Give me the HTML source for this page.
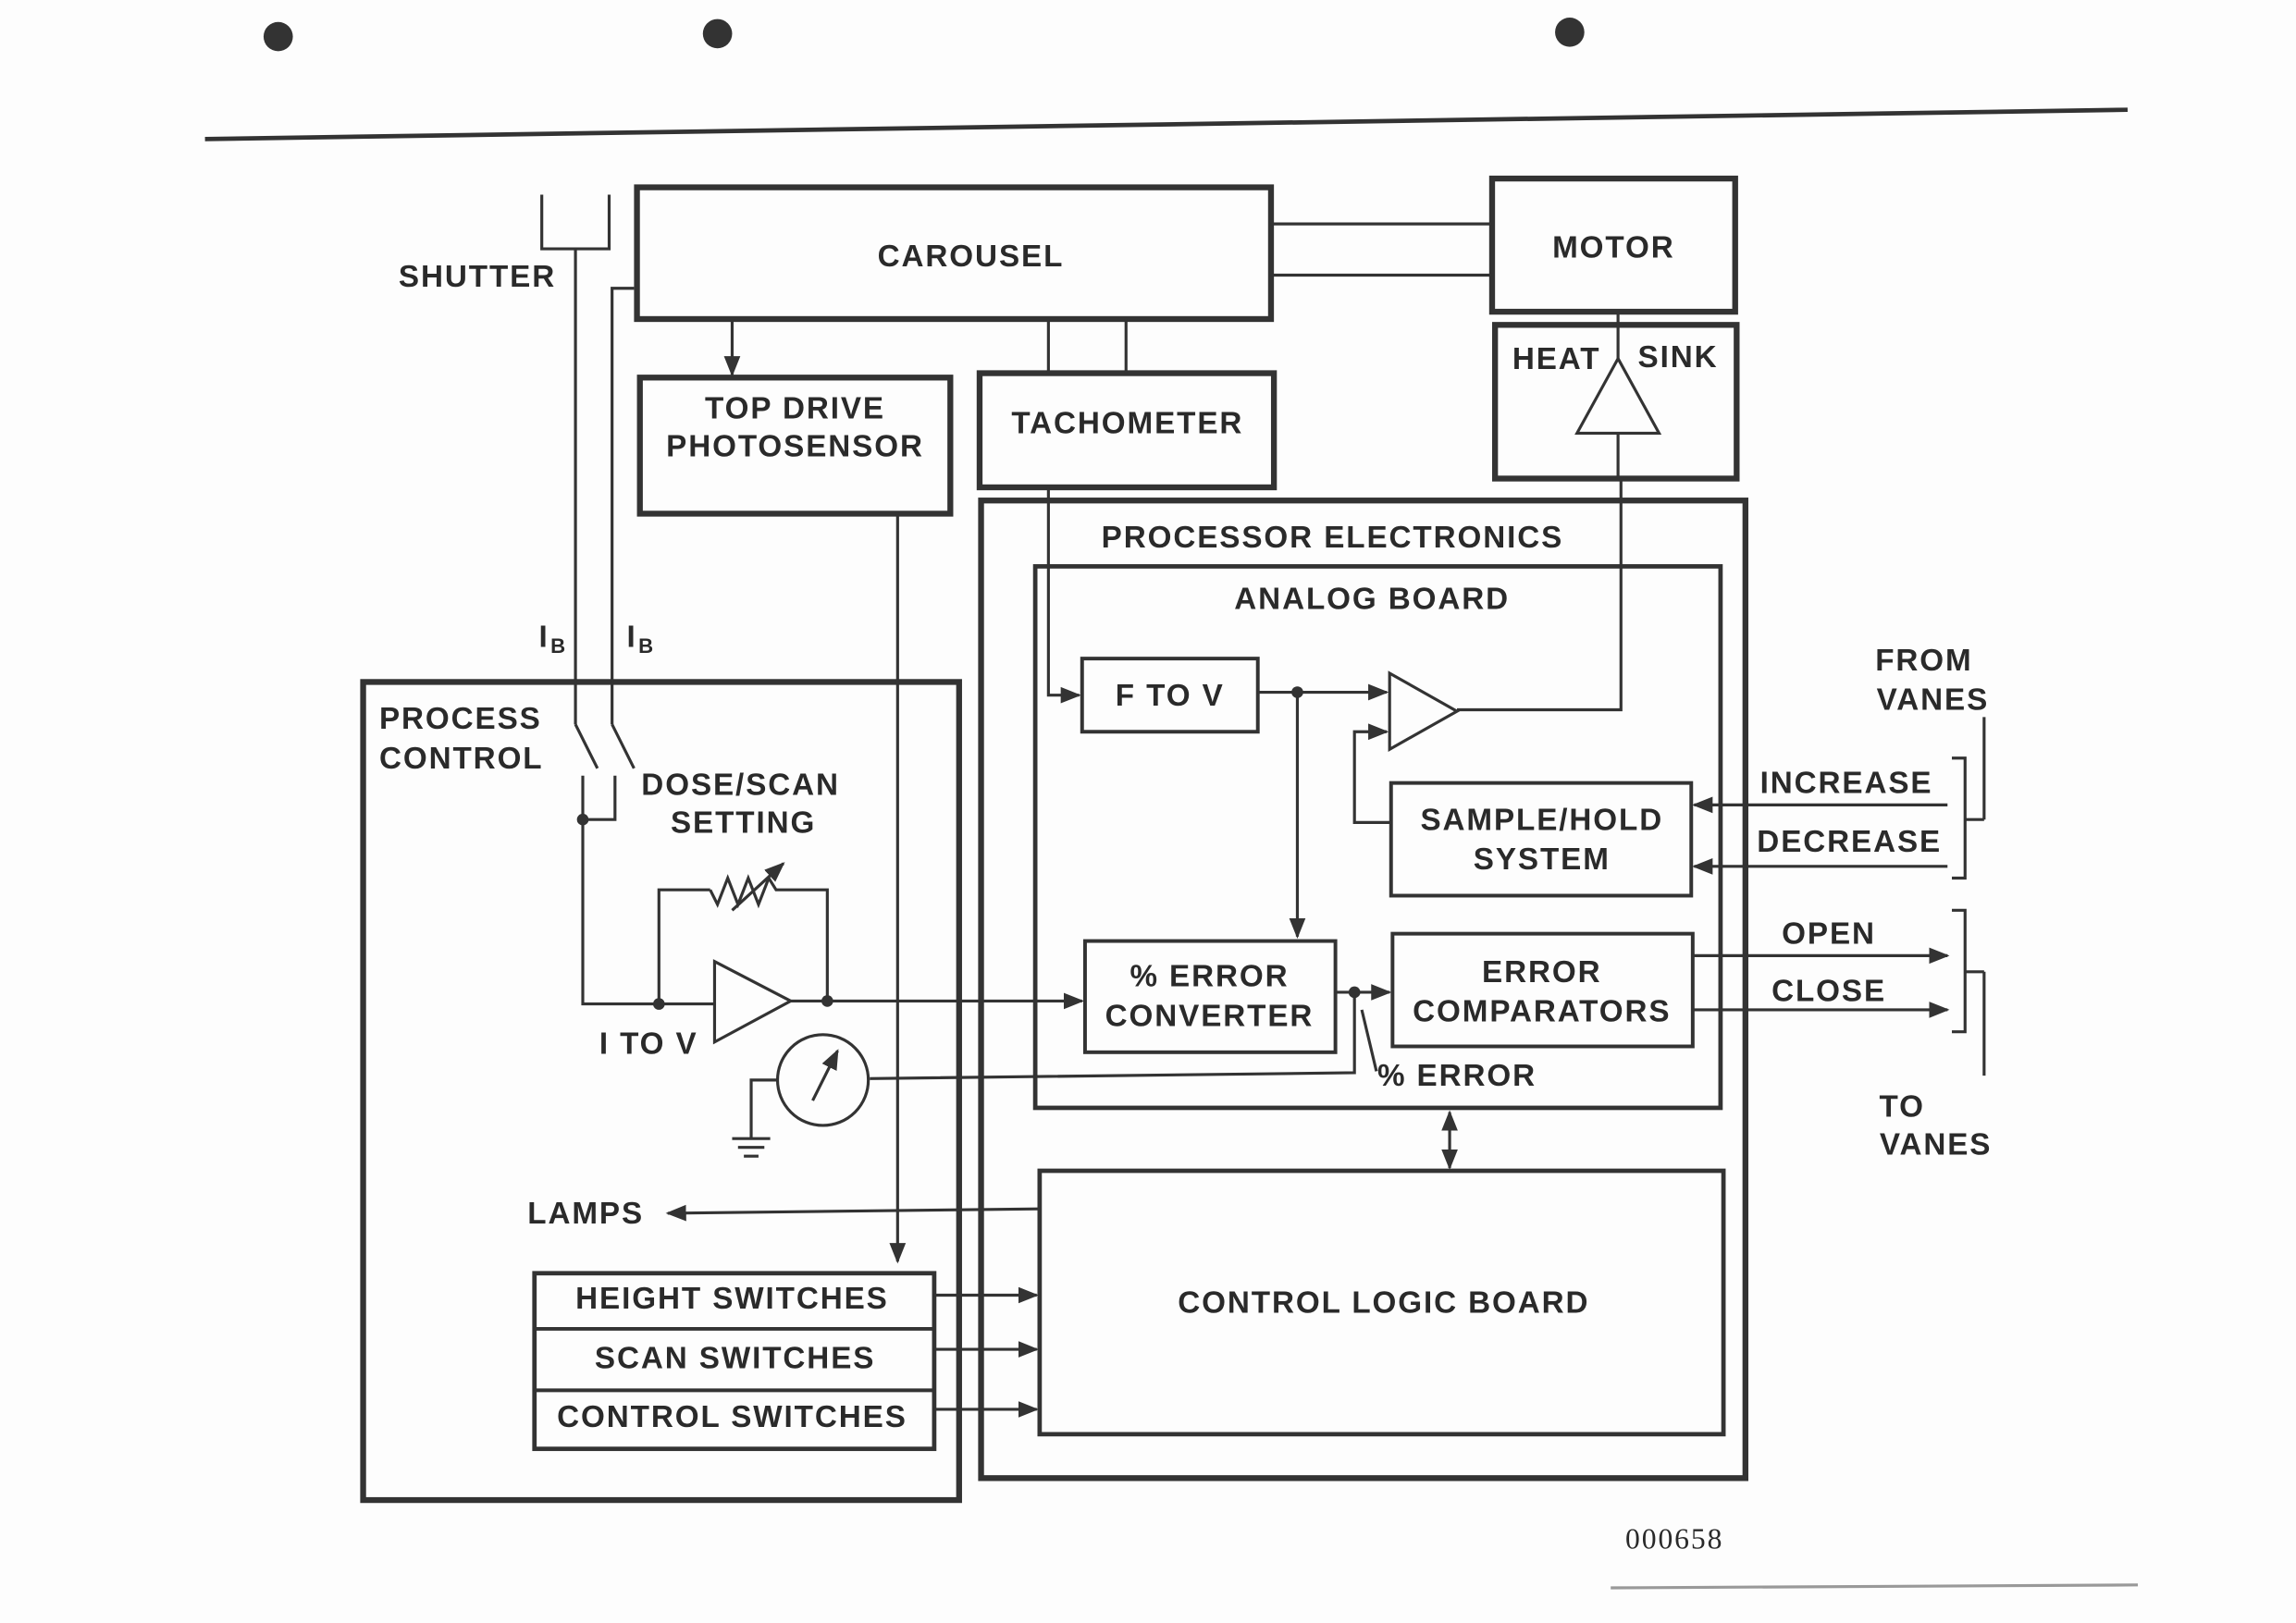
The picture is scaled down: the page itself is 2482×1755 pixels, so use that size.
<!DOCTYPE html>
<html><head><meta charset="utf-8"><style>
html,body{margin:0;padding:0;background:#fff;}
svg{display:block;}
text{font-family:"Liberation Sans",sans-serif;fill:#2a2a2a;letter-spacing:1.2px;}
</style></head><body>
<svg width="2482" height="1755" viewBox="0 0 1568 1109" preserveAspectRatio="none" xmlns="http://www.w3.org/2000/svg">
<defs>
<marker id="a" viewBox="0 0 10 10" refX="9" refY="5" markerWidth="7" markerHeight="7" orient="auto-start-reverse"><path d="M0,1 L10,5 L0,9 z" fill="#333"/></marker>
</defs>
<rect width="1568" height="1109" fill="#fdfdfd"/>
<g fill="#333"><circle cx="190" cy="25" r="10"/><circle cx="490" cy="23" r="10"/><circle cx="1072" cy="22" r="10"/></g>
<line x1="140" y1="95" x2="1453" y2="75" stroke="#333" stroke-width="3"/>
<line x1="1100" y1="1085" x2="1460" y2="1083" stroke="#999" stroke-width="2"/>
<g fill="none" stroke="#333">
<rect x="435" y="128" width="433" height="90" stroke-width="4"/>
<rect x="1019" y="122" width="166" height="91" stroke-width="4"/>
<rect x="1021" y="222" width="165" height="105" stroke-width="4"/>
<rect x="437" y="258" width="212" height="93" stroke-width="4"/>
<rect x="669" y="255" width="201" height="78" stroke-width="4"/>
<rect x="248" y="466" width="407" height="559" stroke-width="4"/>
<rect x="670" y="342" width="522" height="668" stroke-width="4"/>
<rect x="707" y="387" width="468" height="370" stroke-width="3"/>
<rect x="710" y="800" width="467" height="180" stroke-width="3"/>
<rect x="739" y="450" width="120" height="50" stroke-width="2.5"/>
<rect x="950" y="535" width="205" height="77" stroke-width="2.5"/>
<rect x="741" y="643" width="171" height="76" stroke-width="2.5"/>
<rect x="951" y="638" width="205" height="77" stroke-width="2.5"/>
<rect x="365" y="870" width="273" height="120" stroke-width="3"/>
<line x1="365" y1="908" x2="638" y2="908" stroke-width="2.5"/>
<line x1="365" y1="950" x2="638" y2="950" stroke-width="2.5"/>
<g stroke-width="2">
<line x1="868" y1="153" x2="1019" y2="153"/>
<line x1="868" y1="188" x2="1019" y2="188"/>
<line x1="500" y1="218" x2="500" y2="256" marker-end="url(#a)"/>
<line x1="716" y1="218" x2="716" y2="255"/>
<line x1="769" y1="218" x2="769" y2="255"/>
<polyline points="370,133 370,170 416,170 416,133"/>
<line x1="393" y1="170" x2="393" y2="495"/>
<polyline points="433,197 418,197 418,495"/>
<line x1="393" y1="495" x2="408" y2="525"/>
<line x1="418" y1="495" x2="433" y2="525"/>
<polyline points="398,530 398,686 488,686"/>
<polyline points="420,530 420,560 398,560"/>
<polygon points="1105,245 1077,296 1133,296"/>
<line x1="1105" y1="213" x2="1105" y2="245"/>
<line x1="1105" y1="296" x2="1105" y2="327"/>
<polyline points="1107,327 1107,485 995,485"/>
<polyline points="716,333 716,475 737,475" marker-end="url(#a)"/>
<polygon points="949,460 995,486 949,512"/>
<line x1="859" y1="473" x2="947" y2="473" marker-end="url(#a)"/>
<line x1="886" y1="473" x2="886" y2="640" marker-end="url(#a)"/>
<polyline points="950,562 925,562 925,500 947,500" marker-end="url(#a)"/>
<polygon points="488,657 540,684 488,712"/>
<polyline points="450,684 450,608 485,608"/>
<polyline points="485,608 490,618 497,600 504,618 511,600 518,618 525,600 530,608 565,608 565,684"/>
<line x1="500" y1="622" x2="535" y2="590" marker-end="url(#a)"/>
<line x1="540" y1="684" x2="739" y2="684" marker-end="url(#a)"/>
<circle cx="562" cy="738" r="31"/>
<line x1="555" y1="752" x2="572" y2="718" marker-end="url(#a)"/>
<polyline points="531,738 513,738 513,778"/>
<line x1="500" y1="778" x2="526" y2="778"/><line x1="504" y1="784" x2="522" y2="784"/><line x1="508" y1="790" x2="518" y2="790"/>
<polyline points="594,737 925,733 925,678"/>
<line x1="912" y1="678" x2="949" y2="678" marker-end="url(#a)"/>
<line x1="930" y1="690" x2="940" y2="732"/>
<line x1="990" y1="760" x2="990" y2="798" marker-start="url(#a)" marker-end="url(#a)"/>
<line x1="710" y1="826" x2="456" y2="829" marker-end="url(#a)"/>
<line x1="613" y1="351" x2="613" y2="862" marker-end="url(#a)"/>
<line x1="638" y1="885" x2="708" y2="885" marker-end="url(#a)"/>
<line x1="638" y1="922" x2="708" y2="922" marker-end="url(#a)"/>
<line x1="638" y1="963" x2="708" y2="963" marker-end="url(#a)"/>
<line x1="1330" y1="550" x2="1157" y2="550" marker-end="url(#a)"/>
<line x1="1330" y1="592" x2="1157" y2="592" marker-end="url(#a)"/>
<line x1="1156" y1="653" x2="1330" y2="653" marker-end="url(#a)"/>
<line x1="1156" y1="690" x2="1330" y2="690" marker-end="url(#a)"/>
<polyline points="1333,518 1342,518 1342,600 1333,600"/>
<line x1="1342" y1="560" x2="1355" y2="560"/>
<line x1="1355" y1="490" x2="1355" y2="560"/>
<polyline points="1333,622 1342,622 1342,705 1333,705"/>
<line x1="1342" y1="664" x2="1355" y2="664"/>
<line x1="1355" y1="664" x2="1355" y2="735"/>
</g>
</g>
<g fill="#333">
<circle cx="398" cy="560" r="4"/><circle cx="450" cy="686" r="4"/><circle cx="565" cy="684" r="4"/>
<circle cx="886" cy="473" r="4"/><circle cx="925" cy="678" r="4"/>
</g>
<g font-size="21" font-weight="bold" text-anchor="middle">
<text x="663" y="182">CAROUSEL</text>
<text x="1102" y="176">MOTOR</text>
<text x="1063" y="252">HEAT</text><text x="1146" y="251">SINK</text>
<text x="543" y="286">TOP DRIVE</text><text x="543" y="312">PHOTOSENSOR</text>
<text x="770" y="296">TACHOMETER</text>
<text x="326" y="196">SHUTTER</text>
<text x="910" y="374">PROCESSOR ELECTRONICS</text>
<text x="937" y="416">ANALOG BOARD</text>
<text x="799" y="482">F TO V</text>
<text x="1053" y="567">SAMPLE/HOLD</text><text x="1053" y="594">SYSTEM</text>
<text x="826" y="674">% ERROR</text><text x="826" y="701">CONVERTER</text>
<text x="1053" y="671">ERROR</text><text x="1053" y="698">COMPARATORS</text>
<text x="995" y="742">% ERROR</text>
<text x="443" y="720">I TO V</text>
<text x="945" y="897">CONTROL LOGIC BOARD</text>
<text x="400" y="836">LAMPS</text>
<text x="500" y="894">HEIGHT SWITCHES</text>
<text x="502" y="935">SCAN SWITCHES</text>
<text x="500" y="975">CONTROL SWITCHES</text>
<text x="1261" y="542">INCREASE</text>
<text x="1263" y="582">DECREASE</text>
<text x="1249" y="645">OPEN</text>
<text x="1249" y="684">CLOSE</text>
<text x="1314" y="458">FROM</text><text x="1320" y="485">VANES</text>
<text x="1299" y="763">TO</text><text x="1322" y="789">VANES</text>
</g>
<g font-size="21" font-weight="bold">
<text x="259" y="498">PROCESS</text><text x="259" y="525">CONTROL</text>
<text x="438" y="543">DOSE/SCAN</text><text x="458" y="569">SETTING</text>
<text x="368" y="442">I</text><text x="376" y="446" font-size="14">B</text>
<text x="428" y="442">I</text><text x="436" y="446" font-size="14">B</text>
</g>
<text x="1110" y="1058" font-size="20" fill="#666" style="font-family:'Liberation Serif',serif">000658</text>
</svg>
</body></html>
